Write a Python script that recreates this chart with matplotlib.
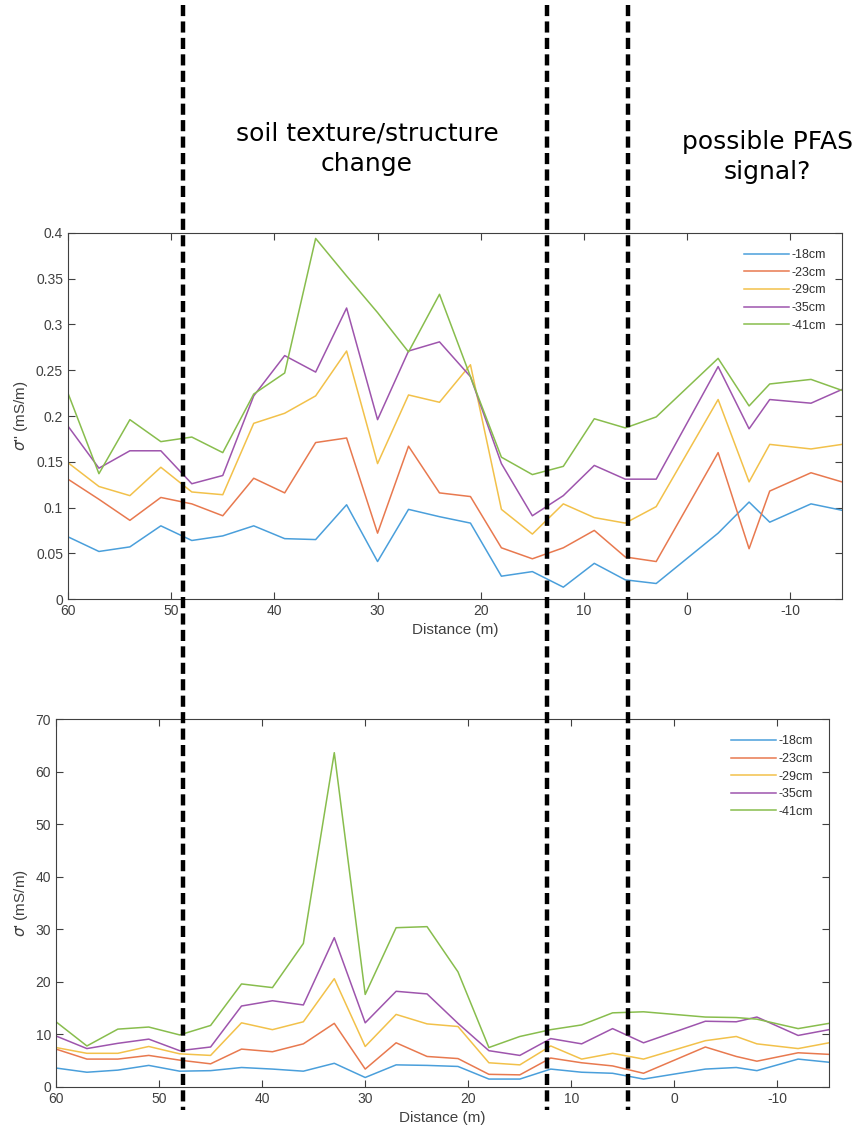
import matplotlib.pyplot as plt
from matplotlib.lines import Line2D

# distance along the profile (m)
distance = [60, 57, 54, 51, 48, 45, 42, 39, 36, 33, 30, 27, 24, 21, 18, 15, 12,
            9, 6, 3, -3, -6, -8, -12, -15]

depths = ['-18cm', '-23cm', '-29cm', '-35cm', '-41cm']

# imaginary conductivity sigma'' (mS/m)
imag_18 = [0.068, 0.052, 0.057, 0.080, 0.064, 0.069, 0.080, 0.066, 0.065, 0.103, 0.041, 0.098, 0.090,
           0.083, 0.025, 0.030, 0.013, 0.039, 0.021, 0.017, 0.072, 0.106, 0.084, 0.104, 0.097]
imag_23 = [0.131, 0.109, 0.086, 0.111, 0.104, 0.091, 0.132, 0.116, 0.171, 0.176, 0.072, 0.167, 0.116,
           0.112, 0.056, 0.044, 0.056, 0.075, 0.046, 0.041, 0.160, 0.055, 0.118, 0.138, 0.128]
imag_29 = [0.149, 0.123, 0.113, 0.144, 0.117, 0.114, 0.192, 0.203, 0.222, 0.271, 0.148, 0.223, 0.215,
           0.256, 0.098, 0.071, 0.104, 0.089, 0.083, 0.101, 0.218, 0.128, 0.169, 0.164, 0.169]
imag_35 = [0.189, 0.143, 0.162, 0.162, 0.126, 0.135, 0.222, 0.266, 0.248, 0.318, 0.196, 0.271, 0.281,
           0.243, 0.148, 0.091, 0.113, 0.146, 0.131, 0.131, 0.254, 0.186, 0.218, 0.214, 0.229]
imag_41 = [0.225, 0.137, 0.196, 0.172, 0.177, 0.160, 0.224, 0.247, 0.394, 0.353, 0.313, 0.270, 0.333,
           0.243, 0.155, 0.136, 0.145, 0.197, 0.187, 0.199, 0.263, 0.211, 0.235, 0.240, 0.228]

# real conductivity sigma' (mS/m)
real_18 = [3.6, 2.8, 3.2, 4.1, 3.0, 3.1, 3.7, 3.4, 3.0, 4.5, 1.8, 4.2, 4.1,
           3.9, 1.5, 1.5, 3.4, 2.8, 2.6, 1.5, 3.4, 3.7, 3.1, 5.3, 4.7]
real_23 = [7.2, 5.3, 5.3, 6.0, 5.1, 4.4, 7.2, 6.7, 8.2, 12.1, 3.4, 8.4, 5.8,
           5.4, 2.4, 2.3, 5.5, 4.6, 4.0, 2.6, 7.6, 5.8, 4.9, 6.5, 6.2]
real_29 = [7.5, 6.4, 6.4, 7.7, 6.3, 6.0, 12.2, 10.9, 12.4, 20.6, 7.7, 13.8, 12.0,
           11.5, 4.6, 4.2, 7.8, 5.3, 6.4, 5.3, 8.8, 9.6, 8.2, 7.3, 8.4]
real_35 = [9.7, 7.3, 8.3, 9.1, 6.9, 7.6, 15.4, 16.4, 15.6, 28.4, 12.2, 18.2, 17.7,
           12.1, 6.9, 6.0, 9.2, 8.2, 11.1, 8.4, 12.5, 12.4, 13.3, 9.8, 10.9]
real_41 = [12.4, 7.8, 11.0, 11.4, 9.9, 11.7, 19.6, 18.9, 27.3, 63.6, 17.6, 30.3, 30.5,
           21.9, 7.5, 9.6, 10.9, 11.8, 14.1, 14.3, 13.3, 13.2, 12.9, 11.1, 12.1]

colors = ['#4a9fdb', '#e8794f', '#f2c14a', '#9e55ad', '#88bd4d']

plt.rcParams['font.family'] = ['Liberation Sans', 'DejaVu Sans']
plt.rcParams['axes.unicode_minus'] = False

fig = plt.figure(figsize=(8.56, 11.32), dpi=100)
ax1 = fig.add_axes([0.0794, 0.4708, 0.9042, 0.3234])
ax2 = fig.add_axes([0.0654, 0.0398, 0.9031, 0.3250])


def style_axes(ax, series, ylim, yticks, yticklabels, ylabel):
    for vals, lab, c in zip(series, depths, colors):
        ax.plot(distance, vals, color=c, lw=1.1, label=lab)
    ax.set_xlim(60, -15)
    ax.set_ylim(*ylim)
    ax.set_xticks([60, 50, 40, 30, 20, 10, 0, -10])
    ax.set_yticks(yticks)
    ax.set_yticklabels(yticklabels)
    ax.tick_params(direction='in', top=True, right=True, length=5, width=0.8,
                   colors='#404040', labelsize=10, labelcolor='#404040')
    for s in ax.spines.values():
        s.set_color('#404040')
        s.set_linewidth(0.8)
    ax.set_xlabel('Distance (m)', fontsize=11, color='#404040', labelpad=4)
    ax.set_ylabel(ylabel, fontsize=11, color='#404040')
    leg = ax.legend(loc='upper right', frameon=False, fontsize=9, handlelength=3.6,
                    handletextpad=0.15, labelspacing=0.45, borderaxespad=0.9)
    for t in leg.get_texts():
        t.set_color('#303030')


style_axes(ax1, [imag_18, imag_23, imag_29, imag_35, imag_41], (0, 0.4),
           [0, 0.05, 0.1, 0.15, 0.2, 0.25, 0.3, 0.35, 0.4],
           ['0', '0.05', '0.1', '0.15', '0.2', '0.25', '0.3', '0.35', '0.4'],
           r"$\sigma$'' (mS/m)")
style_axes(ax2, [real_18, real_23, real_29, real_35, real_41], (0, 70),
           range(0, 71, 10), [str(v) for v in range(0, 71, 10)],
           r"$\sigma$' (mS/m)")

# boundaries between the zones, drawn over both panels
for xf in [183 / 856, 547 / 856, 628 / 856]:
    fig.add_artist(Line2D([xf, xf], [1 - 5 / 1132, 1 - 1110 / 1132], transform=fig.transFigure,
                          color='black', lw=3.2, linestyle=(0, (2.5, 1.2))))

fig.text(367 / 856, 1 - 149 / 1132, 'soil texture/structure\nchange', ha='center', va='center',
         fontsize=18, family=['DejaVu Sans'], linespacing=1.35)
fig.text(767 / 856, 1 - 157 / 1132, 'possible PFAS\nsignal?', ha='center', va='center',
         fontsize=18, family=['DejaVu Sans'], linespacing=1.35)

fig.savefig('out.png', dpi=100)
